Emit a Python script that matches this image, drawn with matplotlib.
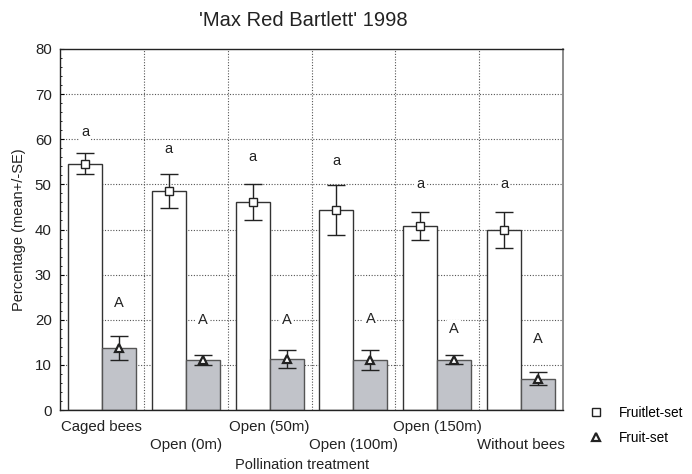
import numpy as np
import matplotlib
matplotlib.use("Agg")
import matplotlib.pyplot as plt
from matplotlib.ticker import MultipleLocator

plt.rcParams['font.family'] = ['Liberation Sans', 'DejaVu Sans']

# data
treatments = ['Caged bees', 'Open (0m)', 'Open (50m)', 'Open (100m)', 'Open (150m)', 'Without bees']
fruitlet = [54.6, 48.6, 46.0, 44.3, 40.8, 39.8]
fruitlet_lo = [52.2, 44.8, 42.0, 38.8, 37.7, 35.9]
fruitlet_hi = [57.0, 52.3, 50.1, 49.8, 43.9, 43.9]
fruit = [13.7, 11.1, 11.2, 11.1, 11.1, 6.9]
fruit_lo = [11.1, 10.0, 9.2, 8.9, 10.2, 5.6]
fruit_hi = [16.3, 12.1, 13.3, 13.4, 12.2, 8.4]
letters_low = ['a', 'a', 'a', 'a', 'a', 'a']
letters_low_y = [61.5, 57.8, 56.0, 55.2, 50.0, 50.0]
letters_up = ['A', 'A', 'A', 'A', 'A', 'A']
letters_up_y = [23.7, 20.0, 20.0, 20.2, 18.0, 15.8]

x = np.arange(len(treatments))
w = 0.405

fig = plt.figure(figsize=(6.92, 4.74), dpi=100)
ax = fig.add_axes([60/692, 64/474, 503/692, 361/474])

ax.bar(x - w/2, fruitlet, width=w, color='white', edgecolor='#333333', linewidth=1.0, zorder=2)
ax.bar(x + w/2, fruit, width=w, color='#c1c3c9', edgecolor='#555555', linewidth=1.0, zorder=2)

f1 = np.array(fruitlet)
f2 = np.array(fruit)
ax.errorbar(x - w/2, f1, yerr=[f1 - np.array(fruitlet_lo), np.array(fruitlet_hi) - f1],
            fmt='none', ecolor='#222222', elinewidth=1.0, capsize=6.5, capthick=1.0, zorder=3)
ax.errorbar(x + w/2, f2, yerr=[f2 - np.array(fruit_lo), np.array(fruit_hi) - f2],
            fmt='none', ecolor='#222222', elinewidth=1.0, capsize=6.5, capthick=1.0, zorder=3)
ax.plot(x - w/2, fruitlet, 's', ms=6, mfc='white', mec='#222222', mew=1.0, ls='none',
        zorder=4, label='Fruitlet-set')
ax.plot(x + w/2, fruit, '^', ms=5.5, mfc='white', mec='#222222', mew=1.6, ls='none',
        zorder=4, label='Fruit-set')

for i in range(len(treatments)):
    ax.text(x[i] - w/2, letters_low_y[i], letters_low[i], ha='center', va='center', fontsize=10.5,
            color='#222222', zorder=3,
            bbox=dict(facecolor='white', edgecolor='none', pad=1.5))
    ax.text(x[i] + w/2, letters_up_y[i], letters_up[i], ha='center', va='center', fontsize=10.5,
            color='#222222', zorder=3,
            bbox=dict(facecolor='white', edgecolor='none', pad=1.5))

ax.set_xlim(-0.5, len(treatments) - 0.5)
ax.set_ylim(0, 80)
ax.yaxis.set_major_locator(MultipleLocator(10))
ax.yaxis.set_minor_locator(MultipleLocator(2))
ax.set_xticks(x)
ax.set_xticklabels([t if i % 2 == 0 else '\n' + t for i, t in enumerate(treatments)],
                   fontsize=10.8, color='#222222', linespacing=1.35)
ax.tick_params(axis='x', length=0, pad=7)
ax.tick_params(axis='y', which='major', direction='in', length=3, labelsize=10.8,
               labelcolor='#222222', pad=6)
ax.tick_params(axis='y', which='minor', direction='in', length=1.5)
ax.tick_params(right=False, top=False)

# dotted grid
for yv in range(10, 80, 10):
    ax.axhline(yv, color='#555555', ls=(0, (1, 1.5)), lw=0.8, zorder=1)
for xv in x[:-1] + 0.5:
    ax.axvline(xv, color='#555555', ls=(0, (1, 1.5)), lw=0.8, zorder=1)

for s in ['left', 'top', 'bottom']:
    ax.spines[s].set_color('#222222')
    ax.spines[s].set_linewidth(1.0)
ax.spines['right'].set_color('#777777')
ax.spines['right'].set_linewidth(1.2)

ax.set_ylabel('Percentage (mean+/-SE)', fontsize=10.5, color='#222222', labelpad=6)
fig.text(302/692, 1 - 465/474, 'Pollination treatment', ha='center', va='center',
         fontsize=10.5, color='#222222')
fig.text(303/692, 1 - 20/474, "'Max Red Bartlett' 1998", ha='center', va='center',
         fontsize=14.5, color='#222222')

fig.legend(loc='upper left', bbox_to_anchor=(0.843, 0.155), frameon=False, fontsize=9.8,
           handlelength=1.0, handletextpad=1.2, labelspacing=0.8, borderaxespad=0)

fig.savefig('out.png', dpi=100)
